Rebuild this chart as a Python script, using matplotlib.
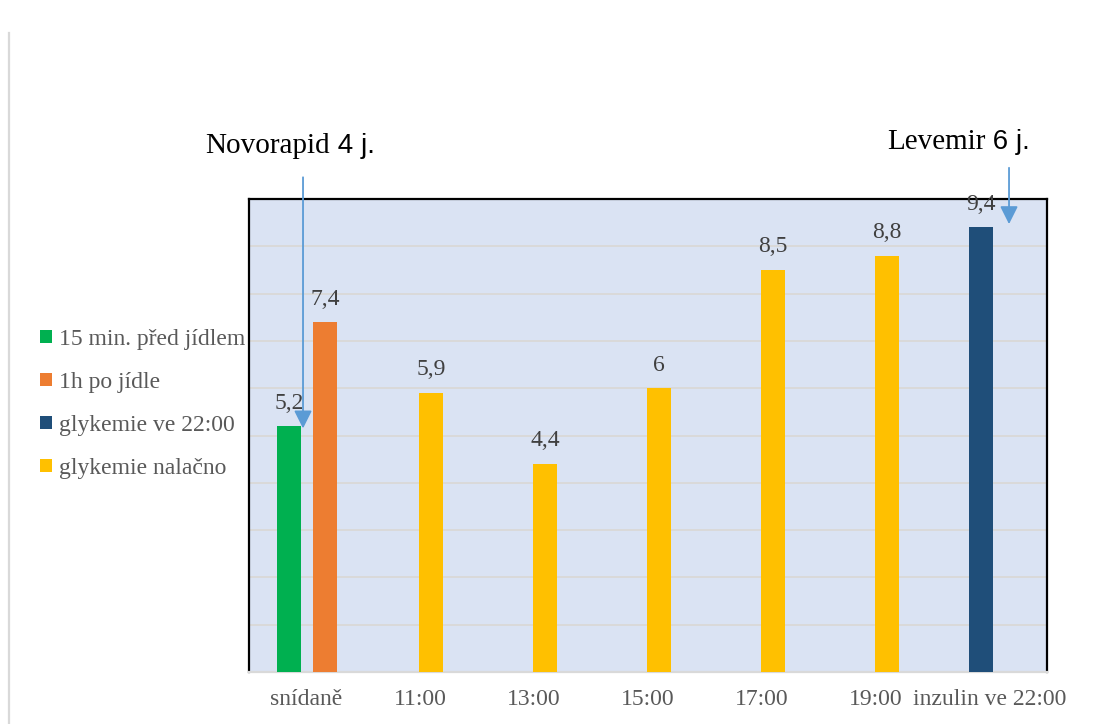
import matplotlib.pyplot as plt
from matplotlib.lines import Line2D
import numpy as np

# glycemia readings over the day (mmol/l)
categories = ['snídaně', '11:00', '13:00', '15:00', '17:00', '19:00', 'inzulin ve 22:00']
series_names = ['15 min. před jídlem', '1h po jídle', 'glykemie ve 22:00', 'glykemie nalačno']
before_meal = {0: 5.2}
after_meal = {0: 7.4}
evening = {6: 9.4}
fasting = {1: 5.9, 2: 4.4, 3: 6, 4: 8.5, 5: 8.8}

colors = ['#00B050', '#ED7D31', '#1F4E79', '#FFC000']
offsets = [-0.15, 0.167, -0.075, 0.096]
width = 0.21

serif = 'Liberation Serif'
sans = 'Liberation Sans'
label_color = '#404040'
text_color = '#595959'


def fmt(v):
    return ('%g' % v).replace('.', ',')


fig = plt.figure(figsize=(10.93, 7.24), dpi=100)
ax = fig.add_axes([0.2278, 0.0718, 0.7301, 0.6533])
ax.set_facecolor('#DAE3F3')

handles = []
for data, color, off, name in zip([before_meal, after_meal, evening, fasting], colors, offsets, series_names):
    xs = np.array(list(data.keys()), dtype=float) + off
    vals = list(data.values())
    bars = ax.bar(xs, vals, width=width, color=color, label=name, zorder=3)
    handles.append(bars)
    for x, v in zip(xs, vals):
        ax.annotate(fmt(v), xy=(x, v), xytext=(0, 9), textcoords='offset points',
                    ha='center', va='bottom', fontsize=17, family=serif, color=label_color, zorder=4)

ax.set_xlim(-0.5, len(categories) - 0.5)
ax.set_ylim(0, 10)
ax.set_yticks(np.arange(0, 11, 1))
ax.set_yticklabels([])
ax.set_xticks(range(len(categories)))
ax.set_xticklabels(categories, fontsize=17, family=serif, color=text_color)
ax.tick_params(axis='both', length=0)
ax.tick_params(axis='x', pad=12)
ax.grid(axis='y', color='#D9D9D9', lw=1.4, zorder=1)
ax.set_axisbelow(True)

for side in ['left', 'right', 'top']:
    ax.spines[side].set_color('black')
    ax.spines[side].set_linewidth(1.6)
ax.spines['bottom'].set_color('#D9D9D9')
ax.spines['bottom'].set_linewidth(1.6)

leg = ax.legend(handles=handles, loc='center left', bbox_to_anchor=(0.028, 0.442),
                bbox_transform=fig.transFigure, frameon=False, prop={'family': serif, 'size': 17},
                handlelength=0.5, handleheight=0.5, handletextpad=0.3, labelspacing=0.93,
                borderaxespad=0)
for t in leg.get_texts():
    t.set_color(text_color)

# insulin dose annotations with arrows
arrow_color = '#5B9BD5'
arrow = dict(arrowstyle='-|>,head_length=0.6,head_width=0.3', color=arrow_color,
             lw=1.3, mutation_scale=18, shrinkA=0, shrinkB=0)
ax.annotate('', xy=(-0.026, 5.15), xytext=(-0.026, 10.46), arrowprops=arrow, annotation_clip=False, zorder=5)
ax.annotate('', xy=(6.167, 9.47), xytext=(6.167, 10.66), arrowprops=arrow, annotation_clip=False, zorder=5)

t1 = fig.text(205 / 1093, 1 - 153 / 724, 'Novorapid', fontsize=21, family=serif, color='black', va='baseline')
t2 = fig.text(887 / 1093, 1 - 149 / 724, 'Levemir', fontsize=21, family=serif, color='black', va='baseline')

# the dose is set in a sans-serif font right after the serif word
fig.canvas.draw()
r = fig.canvas.get_renderer()
for t, s in [(t1, ' 4 j.'), (t2, ' 6 j.')]:
    bb = t.get_window_extent(r)
    fig.text(bb.x1 / fig.bbox.width, t.get_position()[1], s, fontsize=20, family=sans,
             color='black', va='baseline')

# page frame line on the left
fig.add_artist(Line2D([9 / 1093, 9 / 1093], [0, 1 - 33 / 724], color='#D9D9D9', lw=1.6))

fig.savefig('out.png', dpi=100)
